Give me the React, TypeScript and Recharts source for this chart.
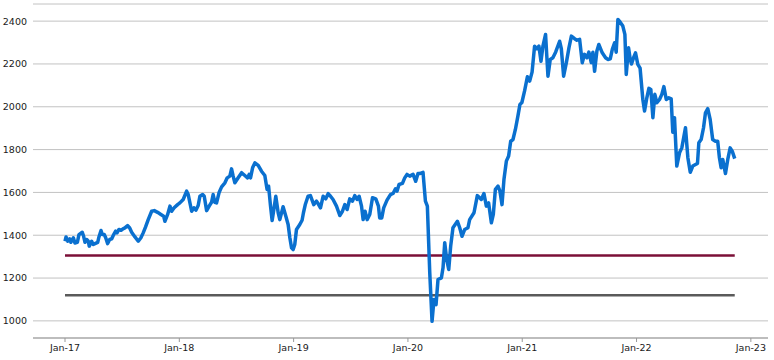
import React from 'react';
import { LineChart, Line, XAxis, YAxis, CartesianGrid } from 'recharts';

// decimal years (2017.0 = Jan-17)
const dates = [
  2017.0, 2017.009, 2017.024, 2017.041, 2017.052, 2017.073, 2017.087, 2017.108, 2017.122, 2017.151,
  2017.163, 2017.175, 2017.19, 2017.204, 2017.212, 2017.233, 2017.247, 2017.262, 2017.286, 2017.297,
  2017.315, 2017.326, 2017.344, 2017.356, 2017.373, 2017.391, 2017.408, 2017.426, 2017.443, 2017.455,
  2017.472, 2017.49, 2017.507, 2017.524, 2017.548, 2017.566, 2017.583, 2017.612, 2017.641, 2017.664,
  2017.684, 2017.705, 2017.728, 2017.758, 2017.781, 2017.81, 2017.839, 2017.863, 2017.874, 2017.898,
  2017.918, 2017.933, 2017.955, 2017.985, 2018.005, 2018.034, 2018.064, 2018.078, 2018.108, 2018.128,
  2018.145, 2018.165, 2018.18, 2018.204, 2018.218, 2018.239, 2018.261, 2018.282, 2018.296, 2018.311,
  2018.326, 2018.349, 2018.37, 2018.399, 2018.419, 2018.442, 2018.457, 2018.471, 2018.486, 2018.515,
  2018.545, 2018.573, 2018.597, 2018.611, 2018.623, 2018.641, 2018.661, 2018.69, 2018.719, 2018.748,
  2018.768, 2018.781, 2018.798, 2018.812, 2018.827, 2018.844, 2018.865, 2018.879, 2018.908, 2018.932,
  2018.952, 2018.967, 2018.982, 2018.996, 2019.01, 2019.025, 2019.054, 2019.074, 2019.086, 2019.103,
  2019.126, 2019.147, 2019.176, 2019.2, 2019.214, 2019.235, 2019.258, 2019.281, 2019.302, 2019.323,
  2019.345, 2019.375, 2019.404, 2019.427, 2019.448, 2019.468, 2019.491, 2019.515, 2019.535, 2019.555,
  2019.573, 2019.594, 2019.608, 2019.625, 2019.643, 2019.666, 2019.69, 2019.719, 2019.742, 2019.753,
  2019.771, 2019.788, 2019.817, 2019.847, 2019.87, 2019.891, 2019.905, 2019.922, 2019.952, 2019.972,
  2019.992, 2020.016, 2020.045, 2020.068, 2020.088, 2020.103, 2020.132, 2020.153, 2020.17, 2020.191,
  2020.211, 2020.228, 2020.246, 2020.263, 2020.293, 2020.307, 2020.322, 2020.339, 2020.357, 2020.374,
  2020.394, 2020.433, 2020.453, 2020.473, 2020.497, 2020.525, 2020.54, 2020.578, 2020.607, 2020.628,
  2020.642, 2020.665, 2020.686, 2020.706, 2020.73, 2020.747, 2020.765, 2020.788, 2020.805, 2020.823,
  2020.84, 2020.861, 2020.881, 2020.899, 2020.919, 2020.94, 2020.962, 2020.98, 2020.997, 2021.021,
  2021.045, 2021.065, 2021.086, 2021.108, 2021.128, 2021.146, 2021.164, 2021.181, 2021.204, 2021.225,
  2021.245, 2021.268, 2021.292, 2021.327, 2021.342, 2021.362, 2021.386, 2021.409, 2021.43, 2021.458,
  2021.478, 2021.502, 2021.525, 2021.545, 2021.566, 2021.583, 2021.604, 2021.618, 2021.633, 2021.653,
  2021.67, 2021.7, 2021.729, 2021.749, 2021.77, 2021.788, 2021.808, 2021.822, 2021.837, 2021.857,
  2021.88, 2021.898, 2021.91, 2021.93, 2021.945, 2021.956, 2021.974, 2021.991, 2022.011, 2022.031,
  2022.055, 2022.07, 2022.09, 2022.108, 2022.125, 2022.143, 2022.16, 2022.178, 2022.201, 2022.221,
  2022.239, 2022.26, 2022.282, 2022.303, 2022.317, 2022.332, 2022.352, 2022.376, 2022.396, 2022.428,
  2022.449, 2022.47, 2022.492, 2022.516, 2022.533, 2022.545, 2022.565, 2022.586, 2022.603, 2022.623,
  2022.644, 2022.666, 2022.69, 2022.71, 2022.725, 2022.74, 2022.754, 2022.778, 2022.798, 2022.819,
  2022.837, 2022.859,
];

const indexValues = [
  1372, 1392, 1372, 1383, 1367, 1388, 1364, 1367, 1403, 1414,
  1395, 1367, 1380, 1372, 1349, 1372, 1357, 1361, 1367, 1392,
  1422, 1403, 1403, 1388, 1361, 1380, 1383, 1403, 1419, 1411,
  1427, 1423, 1430, 1434, 1445, 1434, 1414, 1392, 1372, 1388,
  1411, 1439, 1473, 1512, 1515, 1507, 1497, 1489, 1465, 1497,
  1536, 1512, 1528, 1543, 1551, 1567, 1606, 1590, 1512, 1528,
  1517, 1539, 1582, 1590, 1582, 1515, 1536, 1554, 1590, 1554,
  1551, 1601, 1626, 1645, 1668, 1676, 1710, 1676, 1645, 1668,
  1692, 1679, 1668, 1684, 1668, 1715, 1738, 1726, 1699, 1679,
  1614, 1629, 1536, 1469, 1520, 1582, 1505, 1473, 1533, 1489,
  1450, 1388, 1341, 1333, 1357, 1427, 1450, 1470, 1505, 1545,
  1582, 1585, 1543, 1559, 1548, 1528, 1582, 1570, 1594, 1582,
  1567, 1536, 1492, 1512, 1543, 1520, 1570, 1559, 1585, 1567,
  1582, 1536, 1473, 1512, 1473, 1497, 1575, 1570, 1536, 1481,
  1481, 1528, 1564, 1590, 1595, 1617, 1606, 1637, 1642, 1668,
  1684, 1676, 1684, 1652, 1688, 1688, 1694, 1559, 1536, 1224,
  998, 1100, 1076, 1193, 1201, 1248, 1365, 1287, 1240, 1349,
  1435, 1465, 1435, 1395, 1427, 1435, 1473, 1505, 1585, 1575,
  1567, 1595, 1536, 1551, 1458, 1497, 1614, 1629, 1606, 1543,
  1660, 1746, 1770, 1839, 1847, 1894, 1956, 2011, 2020, 2075,
  2140, 2120, 2162, 2283, 2271, 2283, 2213, 2283, 2338, 2143,
  2221, 2229, 2255, 2306, 2271, 2143, 2206, 2276, 2330, 2318,
  2311, 2315, 2206, 2245, 2229, 2255, 2206, 2255, 2166, 2260,
  2291, 2252, 2229, 2221, 2224, 2268, 2299, 2255, 2408, 2395,
  2377, 2338, 2151, 2276, 2221, 2200, 2229, 2252, 2198, 2180,
  2034, 1980, 2042, 2086, 2081, 1949, 2058, 2019, 2034, 2058,
  2094, 2034, 2042, 2037, 1881, 1949, 1723, 1785, 1808, 1902,
  1762, 1694, 1723, 1730, 1735, 1832, 1847, 1902, 1972, 1991,
  1941, 1847, 1839, 1839, 1762, 1715, 1754, 1688, 1754, 1808,
  1793, 1758,
];

const upperLevel = 1305;
const lowerLevel = 1120;

const yTicks = [1000, 1200, 1400, 1600, 1800, 2000, 2200, 2400];
const xTicks = [2017, 2018, 2019, 2020, 2021, 2022, 2023];

const data = dates.map((d, i) => ({
  date: d,
  value: indexValues[i],
  upper: upperLevel,
  lower: lowerLevel,
}));

const tickStyle = { fontSize: 9.5, fill: '#1a1a1a', fontFamily: 'DejaVu Sans' };

export default function App() {
  return (
    <div style={{ position: 'absolute', left: 0, top: 0, background: '#fff' }}>
      <LineChart
        width={774}
        height={360}
        data={data}
        margin={{ top: 4, right: 6, bottom: 0, left: 0 }}
      >
        <CartesianGrid vertical={false} stroke="#c2c2c2" />
        <XAxis
          dataKey="date"
          type="number"
          domain={[2016.72, 2023.15]}
          ticks={xTicks}
          tickFormatter={(y: number) => `Jan-${String(y).slice(2)}`}
          tick={tickStyle}
          height={22}
          tickSize={4}
          tickMargin={2}
          stroke="#999"
          allowDataOverflow
        />
        <YAxis
          domain={[920, 2480]}
          ticks={yTicks}
          tick={tickStyle}
          width={33}
          axisLine={false}
          tickLine={false}
          tickSize={6}
          tickMargin={0}
          allowDataOverflow
        />
        <Line dataKey="lower" stroke="#5a5a5a" strokeWidth={2.5} dot={false} isAnimationActive={false} />
        <Line dataKey="upper" stroke="#7b0f37" strokeWidth={2.5} dot={false} isAnimationActive={false} />
        <Line
          dataKey="value"
          stroke="#0a70cf"
          strokeWidth={3.5}
          strokeLinejoin="round"
          dot={false}
          isAnimationActive={false}
        />
      </LineChart>
    </div>
  );
}
